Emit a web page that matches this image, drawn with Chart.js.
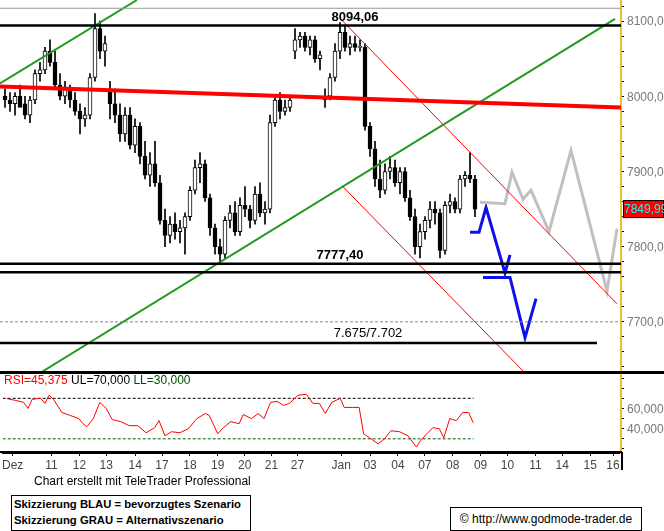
<!DOCTYPE html>
<html><head><meta charset="utf-8">
<script src="https://cdn.jsdelivr.net/npm/chart.js@4"></script>
<style>
body{margin:0;background:#fff;width:664px;height:531px;overflow:hidden;position:relative;font-family:"Liberation Sans",Arial,sans-serif}
#c1{position:absolute;left:0;top:0}
#c2{position:absolute;left:0;top:372px}
.t{position:absolute;font-size:12px;color:#000}
.box{position:absolute;border:1px solid #000;background:#fff;font-size:12px;white-space:nowrap}
</style></head><body>
<canvas id="c1" width="664" height="373"></canvas>
<canvas id="c2" width="664" height="108"></canvas>
<div class="t" style="left:34px;top:474px">Chart erstellt mit TeleTrader Professional</div>
<div class="box" style="left:11px;top:495px;width:236px;height:34px;font-weight:bold;font-size:11.3px;line-height:16px;padding-left:2px">Skizzierung BLAU = bevorzugtes Szenario<br>Skizzierung GRAU = Alternativszenario</div>
<div class="box" style="left:450px;top:507px;width:190px;height:22px;line-height:22px;text-align:center;font-size:12px">© http://www.godmode-trader.de</div>
<script>
// ---- data ----
const opens  = [8000,7995,7990,8000,7990,7975,7995,8030,8035,8060,8045,8015,8000,8010,7995,7980,7970,7975,8025,8090,8060,
 8010,7990,7975,7950,7975,7935,7960,7920,7895,7910, 7885,7835,7815,7830,7820,7825,7840,7875,7905,7910,
 7865,7825,7800,7790,7835,7845,7820,7855,7850,7835, 7870,7845,7850,7965,7995,7980,7985,8060,8075,8080,
 8065,8075,8050,8000,8000,8025,8060,8085,8065,8070, 8065,8065,7960,7930,7890,7875,7900,7905,7885,7900,
 7865,7840,7800,7820,7835,7850,7845,7795,7855,7860, 7850,7890,7895,7890];
const highs  = [8010,8005,8005,8015,8000,8000,8035,8045,8065,8075,8060,8030,8020,8015,8005,7990,7985,8030,8110,8100,8080,
 8020,8010,7990,7985,7985,7970,7965,7940,7925,7940, 7895,7850,7840,7845,7835,7845,7880,7915,7925,7915,
 7870,7830,7810,7840,7855,7860,7865,7880,7855,7880, 7885,7860,7975,8000,8005,7995,8000,8090,8085,8085,
 8080,8080,8060,8010,8030,8070,8098,8094,8080,8080, 8075,8070,7965,7940,7915,7910,7920,7915,7905,7905,
 7875,7850,7830,7840,7860,7860,7850,7860,7870,7865, 7895,7900,7925,7895];
const lows   = [7985,7980,7975,7990,7970,7965,7990,8020,8030,8040,8010,7995,7990,7985,7975,7950,7960,7970,8020,8050,8040,
 7970,7965,7940,7940,7930,7925,7910,7890,7880,7880, 7830,7800,7805,7810,7805,7790,7835,7870,7885,7860,
 7815,7790,7778,7785,7825,7815,7815,7840,7825,7830, 7840,7830,7845,7960,7970,7975,7980,8050,8065,8060,
 8055,8045,8035,7985,7995,8020,8050,8060,8055,8060, 8060,7955,7920,7880,7865,7870,7890,7880,7870,7860,
 7835,7790,7785,7810,7825,7830,7785,7790,7845,7845, 7845,7880,7885,7840];
const closes = [7995,7990,8000,7985,7975,7995,8030,8035,8060,8045,8015,8000,8010,7995,7980,7970,7975,8025,8090,8060,8070,
 7990,7975,7950,7975,7935,7960,7920,7895,7910,7885, 7835,7815,7830,7820,7825,7840,7875,7905,7910,7865,
 7825,7800,7790,7835,7845,7820,7855,7850,7835,7870, 7845,7850,7965,7995,7980,7985,7995,8075,8080,8065,
 8075,8050,8055,7995,8025,8060,8085,8065,8070,8065, 8065,7960,7930,7890,7875,7900,7905,7885,7900,7865,
 7840,7800,7820,7835,7850,7845,7795,7855,7860,7850, 7890,7895,7890,7850];
const rsiX = [0.85,2.5,4.2,5.1,5.9,7.6,8.5,9.3,10.2,11.9,13.6,15.3,16.1,16.9,18.2,19.5,20.8,22,23.7,25.4,27.1,28.8,30.5,31.4,32.6,33.9,35.6,37.3,39,40.7,41.5,43.2,44.1,45.8,47.5,48.3,50,51.3,52.5,53.8,55.1,56.4,57.6,59.3,61,62.3,63.6,64.8,66.1,67.8,68.6,70.3,71.6,72.5,73.7,75.4,76.7,78,79.7,81.4,83.1,83.9,85.2,86.4,87.7,88.6,89.8,91.1,92.4,93.6,94.5];
const rsiV = [69.7,68,66,60,69,70,65,73,69,56,53,50,45,42,50,66,60,49,47,43,43,36,41,48,33,37,36,40,50,55,53,35,40,47,45,54,50,55,50,66,67,63,65,73,74,65,65,55,66,70,61,61,61,35,31,25,30,38,37,33,22,28,35,41,40,31,50,48,56,56,46];
const tickLabels = ["Dez","11","12","13","14","17","18","19","20","21","27","Jan","03","04","07","08","09","10","11","14","15","16"];
const tickPos    = [2,9.8,15.4,20.8,26.6,32,37.6,43.2,48.6,54,59.2,68,73.8,79.4,84.8,90.4,96,101.4,107,112.4,118,122.6];
const priceTicks = [7700,7800,7900,8000,8100];
const rsiTicks = [40,60];
const blueA = [[94,7819],[95.8,7819],[97.2,7852],[101,7765],[102,7789]];
const blueB = [[96.6,7759],[102,7759],[105,7679],[107.2,7731]];
const grayS = [[96,7859],[101,7857],[102.4,7899],[104.6,7863],[106.2,7875],[109.8,7820],[114.2,7928],[121.4,7741],[123.4,7824]];
const redThick = [[0,8013],[124.2,7985]];
const greenLow = [[8,7632],[123,8103]];
const greenUp = [[0,8017],[27.4,8128]];
const redThinUp = [[68.4,8101],[123.4,7724]];
const redThinLow = [[68.4,7881],[105,7632]];
const hLevels = [8094.06,7777.4,7766];
const supportLine = [[0,7672],[119.4,7672]];
const lastPrice = 7849.99;
const rsiLast = "45,375";

const XMAX=124.2;
const pts=a=>a.map(p=>({x:p[0],y:p[1]}));
const lineDs=(a,color,w,dash)=>({type:'line',data:pts(a),borderColor:color,borderWidth:w,pointRadius:0,borderDash:dash||[],tension:0,order:0});
const fmt=v=>v.toFixed(2).replace('.',',');

const ds=[];
ds.push(lineDs([[0,8117],[XMAX,8117]],'#999',1));
ds.push(lineDs([[0,7700],[XMAX,7700]],'#888',1,[3,2]));
hLevels.forEach(h=>ds.push(lineDs([[0,h],[XMAX,h]],'#000',2.5)));
ds.push(lineDs(supportLine,'#000',2.5));
ds.push(lineDs(redThick,'#ff0000',4));
ds.push(lineDs(greenLow,'#1f9a1f',2));
ds.push(lineDs(greenUp,'#1f9a1f',2));
ds.push(lineDs(redThinUp,'#ff0000',1));
ds.push(lineDs(redThinLow,'#ff0000',1));
ds.push({type:'bar',grouped:false,data:highs.map((h,i)=>({x:i+1,y:[lows[i],h]})),backgroundColor:'#000',barThickness:1,order:2});
ds.push({type:'bar',grouped:false,data:opens.map((o,i)=>({x:i+1,y:[o,closes[i]]})),
  backgroundColor:opens.map((o,i)=>closes[i]>=o?'#fff':'#000'),borderColor:'#000',borderWidth:1,borderSkipped:false,barThickness:4,minBarLength:1,order:1});
ds.push(lineDs(grayS,'#c0c0c0',3));
ds.push(lineDs(blueA,'#1010ee',3));
ds.push(lineDs(blueB,'#1010ee',3));

const font={family:'"Liberation Sans",Arial,sans-serif',size:12};
const FONT='12px "Liberation Sans",Arial';
const labels1={id:'l1',afterDraw(c){
  const x=c.scales.x,y=c.scales.y,g=c.ctx;g.save();
  g.fillStyle='#000';g.textAlign='center';g.textBaseline='bottom';
  g.font='bold 13px "Liberation Sans",Arial';
  g.fillText('8094,06',x.getPixelForValue(71),y.getPixelForValue(8094.06)-2);
  g.fillText('7777,40',x.getPixelForValue(68),y.getPixelForValue(7777.4)-2);
  g.font='13px "Liberation Sans",Arial';
  g.fillText('7.675/7.702',x.getPixelForValue(73.6),y.getPixelForValue(7672)-3);
  g.font=FONT;g.fillStyle='#777';g.textAlign='left';g.textBaseline='middle';
  priceTicks.forEach(v=>g.fillText(fmt(v),627,y.getPixelForValue(v)+1));
  const py=y.getPixelForValue(lastPrice);
  g.fillStyle='#ff0000';g.fillRect(623,py-9,41,18);g.strokeStyle='#000';g.strokeRect(623.5,py-8.5,40,17);
  g.fillStyle='#00ffff';g.fillText(fmt(lastPrice),624,py+1);
  g.fillStyle='#000';g.fillRect(0,371,664,2);
  g.restore();}};

new Chart(document.getElementById('c1'),{type:'bar',data:{datasets:ds},
 options:{animation:false,responsive:false,layout:{padding:0},
  plugins:{legend:{display:false},tooltip:{enabled:false}},
  scales:{x:{type:'linear',min:0,max:XMAX,display:false,offset:false},
   y:{position:'right',min:7632,max:8128,afterFit(s){s.width=43;},
     afterBuildTicks(s){const t=[];for(let v=7640;v<=8120;v+=20)t.push({value:v});s.ticks=t;},
     ticks:{display:false},
     grid:{drawOnChartArea:false,color:'#000',tickLength:3},border:{color:'#f0c020',width:2}}}},
 plugins:[labels1]});

const labels2={id:'l2',afterDraw(c){
  const g=c.ctx,y=c.scales.y;g.save();g.font=FONT;g.textBaseline='middle';g.textAlign='left';
  let xx=4;const parts=[['RSI='+rsiLast,'#ff0000'],[' UL=70,000','#000'],[' LL=30,000','#004d00']];
  parts.forEach(p=>{g.fillStyle=p[1];g.fillText(p[0],xx,9);xx+=g.measureText(p[0]).width;});
  g.fillStyle='#777';rsiTicks.forEach(v=>g.fillText(v.toFixed(3).replace('.',','),627,y.getPixelForValue(v)+1));
  g.fillStyle='#000';g.fillRect(0,0,664,2);g.fillRect(0,79,622,2);g.fillRect(621,80,2,18);
  g.restore();}};

new Chart(document.getElementById('c2'),{type:'line',data:{datasets:[
  {data:rsiX.map((x,i)=>({x,y:rsiV[i]})),borderColor:'#ff0000',borderWidth:1,pointRadius:0,tension:0},
  {data:[{x:0,y:70},{x:94.6,y:70}],borderColor:'#000',borderWidth:1,borderDash:[3,2],pointRadius:0},
  {data:[{x:0,y:30},{x:94.6,y:30}],borderColor:'#006000',borderWidth:1,borderDash:[3,2],pointRadius:0}]},
 options:{animation:false,responsive:false,layout:{padding:{top:1}},
  plugins:{legend:{display:false},tooltip:{enabled:false}},
  scales:{x:{type:'linear',min:0,max:XMAX,afterFit(s){s.height=27;},
     afterBuildTicks(s){s.ticks=tickPos.map(v=>({value:v}));},
     ticks:{autoSkip:false,maxRotation:0,color:'#444',font,padding:2,callback:(v,i)=>tickLabels[i]},
     grid:{drawOnChartArea:false,color:'#000',tickLength:3},border:{color:'#000'}},
   y:{position:'right',min:16,max:95,afterFit(s){s.width=43;},
     afterBuildTicks(s){s.ticks=[20,30,40,50,60,70,80,90].map(v=>({value:v}));},
     ticks:{display:false},
     grid:{drawOnChartArea:false,color:'#000',tickLength:3},border:{color:'#f0c020',width:2}}}},
 plugins:[labels2]});
</script></body></html>
